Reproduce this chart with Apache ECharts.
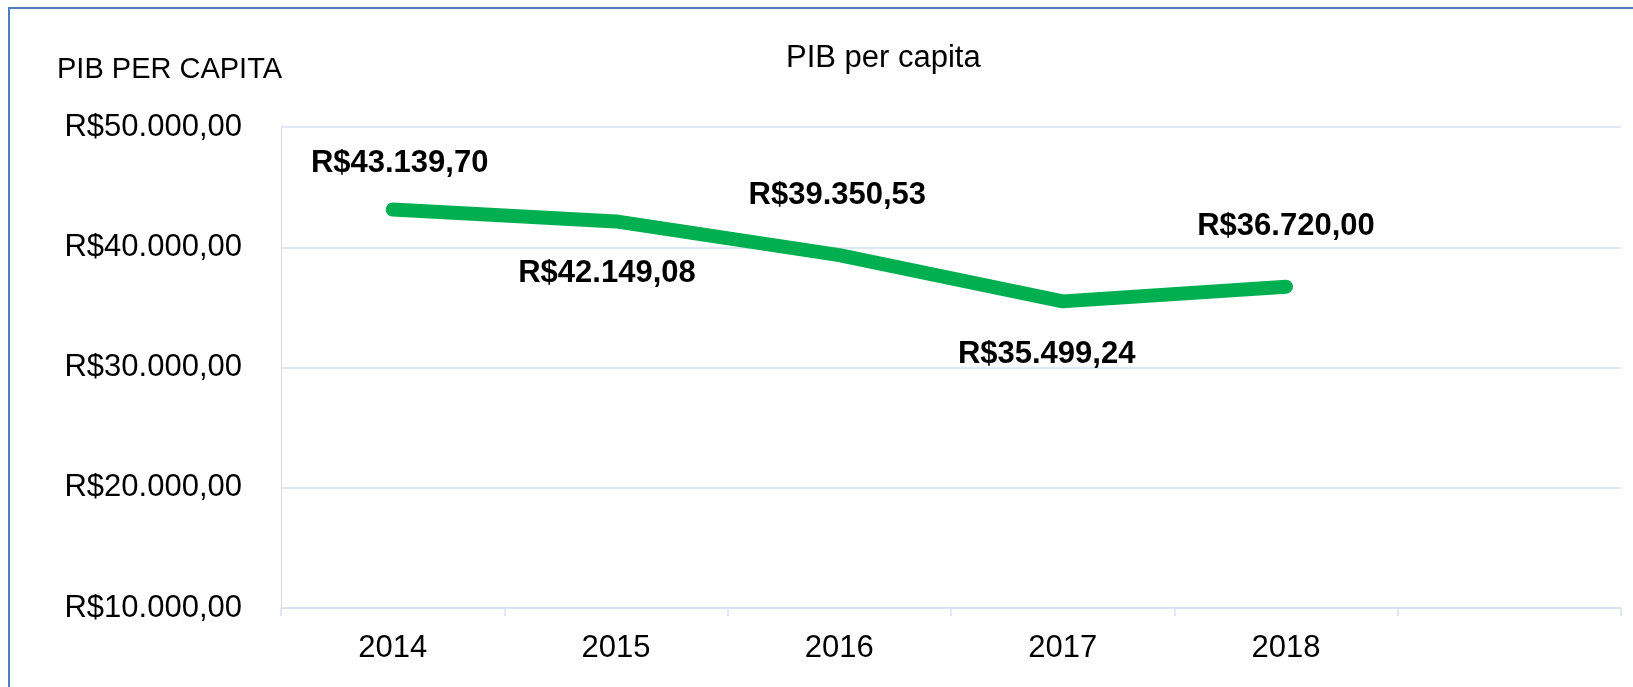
<!DOCTYPE html>
<html>
<head>
<meta charset="utf-8">
<script src="https://cdn.jsdelivr.net/npm/echarts@6/dist/echarts.min.js"></script>
<style>
  html, body { margin: 0; padding: 0; background: #fff; }
  #main { width: 1633px; height: 687px; }
</style>
</head>
<body>
<div id="main"></div>
<script>
// dados
var anos = ['2014', '2015', '2016', '2017', '2018', '']
var pibPerCapita = [43139.70, 42149.08, 39350.53, 35499.24, 36720.00]
// deslocamento dos rótulos (px) em relação ao ponto
var labelOffsets = [[7, -46], [-9, 52], [-2, -60], [-16, 53], [0, -60]]

function reais(v) {
    var neg = v < 0
    v = Math.abs(v)
    var parts = v.toFixed(2).split('.')
    var inteiro = parts[0].replace(/\B(?=(\d{3})+(?!\d))/g, '.')
    return (neg ? '-' : '') + 'R$' + inteiro + ',' + parts[1]
}

var fonte = '"Liberation Sans", Arial, sans-serif'

var myChart = echarts.init(document.getElementById('main'))

var option = {
    backgroundColor: '#fff',
    title: [{
        text: 'PIB per capita',
        left: 786,
        top: 43,
        padding: 0,
        textStyle: { fontFamily: fonte, fontSize: 31, fontWeight: 'normal', color: '#000' }
    }, {
        text: 'PIB PER CAPITA',
        left: 57,
        top: 55,
        padding: 0,
        textStyle: { fontFamily: fonte, fontSize: 29, fontWeight: 'normal', color: '#000' }
    }],
    graphic: [{
        type: 'rect',
        shape: { x: 9, y: 8, width: 1700, height: 720 },
        style: { fill: 'none', stroke: '#4F7EC1', lineWidth: 2 },
        silent: true
    }],
    grid: {
        left: 281,
        right: 12,
        top: 127,
        bottom: 79
    },
    xAxis: {
        type: 'category',
        data: anos,
        boundaryGap: true,
        axisLine: { show: true, lineStyle: { color: '#D6E1F2', width: 1.5 } },
        axisTick: { show: true, length: 8, lineStyle: { color: '#D6E1F2', width: 1.5 } },
        axisLabel: { fontFamily: fonte, fontSize: 31, color: '#000', margin: 25 },
        splitLine: { show: false }
    },
    yAxis: {
        type: 'value',
        min: 10000,
        max: 50000,
        interval: 10000,
        axisLine: { show: true, lineStyle: { color: '#D9D9D9', width: 1 } },
        axisTick: { show: false },
        axisLabel: {
            fontFamily: fonte, fontSize: 31, color: '#000', margin: 39,
            formatter: function (v) { return reais(v) }
        },
        splitLine: { show: true, lineStyle: { color: '#D6E1F2', width: 1.5 } }
    },
    series: [{
        name: 'PIB per capita',
        type: 'line',
        data: pibPerCapita.map(function (v, i) {
            return { value: v, label: { offset: labelOffsets[i] } }
        }),
        symbol: 'circle',
        symbolSize: 1,
        showSymbol: true,
        itemStyle: { color: '#00B050' },
        lineStyle: { color: '#00B050', width: 14, cap: 'round', join: 'round' },
        label: {
            show: true,
            position: 'inside',
            fontFamily: fonte,
            fontSize: 31,
            fontWeight: 'bold',
            color: '#000',
            formatter: function (p) { return reais(p.value) }
        },
        animation: false
    }]
}

myChart.setOption(option)
</script>
</body>
</html>
